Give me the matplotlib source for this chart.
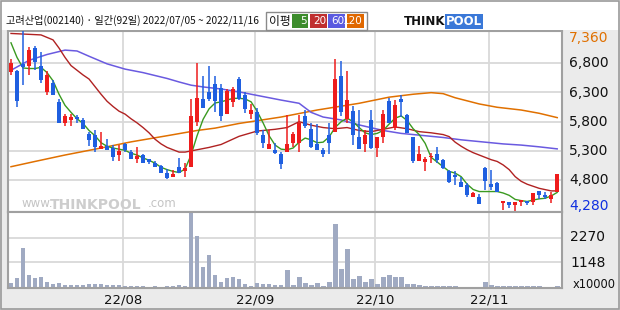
import matplotlib
matplotlib.use('Agg')
import matplotlib.pyplot as plt
from matplotlib.patches import Rectangle

plt.rcParams['font.family'] = ['Noto Sans CJK KR', 'DejaVu Sans']

# daily OHLC, 2022/07/05 ~ 2022/11/16 (92 days)
opens = [6650, 6670, 6790, 6760, 7060, 6750, 6310, 6470, 6130, 5780,
         5830, 5880, 5830, 5590, 5570, 5340, 5390, 5350, 5230, 5420,
         5280, 5170, 5230, 5160, 5090, 5040, 4920, 4860, 5030, 4950,
         5020, 5800, 6190, 6300, 6450, 6370, 5930, 6130, 6530, 6260,
         5930, 5970, 5580, 5330, 5320, 5240, 5280, 5440, 5430, 5900,
         5680, 5420, 5320, 5570, 5630, 6580, 5840, 5980, 5540, 5410,
         5830, 5350, 5530, 6160, 5700, 6190, 5920, 5530, 5130, 5110,
         5190, 5250, 5150, 4960, 4880, 4760, 4710, 4520, 4520, 5010,
         4740, 4750, 4410, 4420, 4370, 4420, 4440, 4420, 4620, 4550,
         4480, 4600]
highs = [6870, 6690, 7360, 7070, 7100, 7000, 6660, 6510, 6190, 5930,
         5930, 5920, 5860, 5630, 5660, 5630, 5500, 5400, 5400, 5430,
         5310, 5360, 5250, 5170, 5120, 5060, 4990, 4980, 5180, 5090,
         6180, 6800, 6580, 6750, 6580, 6450, 6360, 6400, 6570, 6310,
         6110, 6030, 5660, 5660, 5430, 5290, 5920, 5630, 5920, 6000,
         5770, 5760, 5350, 5770, 6870, 6840, 6660, 6070, 6000, 5660,
         6000, 5540, 6000, 6200, 6170, 6260, 5940, 5530, 5380, 5200,
         5270, 5360, 5160, 4980, 4950, 4860, 4750, 4600, 4560, 5030,
         4970, 4760, 4440, 4430, 4430, 4460, 4440, 4580, 4620, 4590,
         4590, 4910]
lows = [6600, 6060, 6430, 6600, 6690, 6470, 6250, 6250, 5770, 5720,
        5720, 5770, 5680, 5390, 5290, 5330, 5310, 5130, 5130, 5290,
        5160, 5100, 5090, 5080, 5020, 4930, 4820, 4850, 4930, 4860,
        5020, 5730, 6040, 6160, 5970, 5820, 5930, 6060, 6170, 5950,
        5840, 5580, 5350, 5330, 5240, 4990, 5280, 5360, 5290, 5700,
        5350, 5310, 5190, 5240, 5630, 5890, 5770, 5400, 5340, 5290,
        5340, 5200, 5430, 5770, 5660, 5880, 5600, 5090, 5130, 4950,
        5100, 5100, 4990, 4750, 4710, 4690, 4520, 4520, 4400, 4630,
        4630, 4590, 4290, 4330, 4280, 4360, 4380, 4380, 4480, 4480,
        4410, 4590]
closes = [6810, 6160, 6730, 7030, 6830, 6510, 6600, 6250, 5780, 5900,
          5880, 5840, 5680, 5480, 5360, 5390, 5310, 5200, 5300, 5310,
          5170, 5220, 5100, 5110, 5030, 4930, 4840, 4910, 4930, 5010,
          5900, 6200, 6040, 6190, 6160, 5900, 6330, 6360, 6190, 6020,
          6000, 5610, 5430, 5420, 5270, 5070, 5420, 5590, 5770, 5730,
          5360, 5310, 5240, 5440, 6530, 5970, 6170, 5580, 5340, 5580,
          5350, 5530, 5930, 5780, 6090, 6130, 5610, 5130, 5250, 5160,
          5220, 5150, 5000, 4760, 4860, 4690, 4550, 4580, 4400, 4780,
          4690, 4590, 4440, 4370, 4430, 4460, 4410, 4580, 4540, 4510,
          4550, 4910]
# volume (x10000)
volume = [245, 430, 1810, 567, 430, 475, 291, 199, 245, 153,
          153, 153, 123, 169, 169, 199, 123, 123, 153, 107,
          107, 107, 107, 61, 92, 61, 107, 107, 153, 107,
          3373, 2361, 935, 1487, 567, 291, 430, 475, 383, 199,
          107, 245, 169, 199, 123, 123, 797, 153, 475, 245,
          153, 245, 107, 291, 2867, 843, 1763, 383, 521, 291,
          383, 199, 475, 567, 475, 475, 199, 199, 153, 107,
          107, 107, 107, 107, 107, 61, 61, 61, 61, 291,
          153, 92, 107, 92, 92, 92, 92, 107, 107, 61,
          61, 107]

# moving averages
ma5 = [7150, 6900, 6720, 6710, 6710, 6730, 6640, 6500, 6270, 6080,
       5960, 5850, 5770, 5650, 5560, 5440, 5380, 5350, 5330, 5310,
       5260, 5230, 5180, 5140, 5090, 5020, 4980, 4950, 4930, 4990,
       5230, 5560, 5840, 6020, 6120, 6140, 6170, 6200, 6200, 6190,
       6140, 5980, 5780, 5560, 5400, 5330, 5320, 5350, 5450, 5520,
       5490, 5440, 5450, 5540, 5700, 5800, 5860, 5800, 5700, 5610,
       5580, 5600, 5650, 5760, 5860, 5900, 5820, 5680, 5580, 5430,
       5190, 5110, 5030, 4950, 4920, 4860, 4730, 4640, 4605, 4605,
       4605, 4605, 4580, 4540, 4470, 4450, 4435, 4460, 4480, 4490,
       4530, 4590]
ma20_x = [0, 5, 7, 8, 9, 10, 11, 12, 13, 14, 15, 16, 17, 18, 19, 20, 21, 22,
          23, 24, 25, 26, 27, 28, 29, 30, 31, 33, 35, 38, 41, 44, 46, 48, 50,
          52, 54, 56, 58, 60, 62, 64, 66, 68, 70, 72, 73, 74, 75, 76, 77, 78,
          80, 81, 82, 83, 84, 85, 86, 88, 90, 91]
ma20_y = [7310, 7285, 7200, 7060, 6900, 6760, 6680, 6600, 6530, 6400, 6270,
          6150, 6060, 5980, 5930, 5850, 5780, 5700, 5610, 5500, 5420, 5360,
          5320, 5280, 5280, 5300, 5320, 5360, 5410, 5550, 5640, 5670, 5700,
          5800, 5740, 5700, 5680, 5700, 5650, 5630, 5670, 5710, 5680, 5630,
          5610, 5580, 5545, 5450, 5380, 5320, 5270, 5230, 5150, 5120, 5060,
          4980, 4860, 4780, 4730, 4660, 4616, 4616]
ma60_x = [0, 3, 6, 9, 11, 13, 16, 19, 22, 26, 28, 30, 32, 35, 38, 42, 45, 48,
          50, 52, 55, 58, 62, 65, 68, 72, 75, 78, 82, 85, 88, 91]
ma60_y = [6680, 6850, 6950, 7025, 7010, 6920, 6790, 6700, 6640, 6540, 6480,
          6425, 6395, 6360, 6310, 6230, 6170, 6115, 5960, 5880, 5830, 5745,
          5650, 5600, 5570, 5530, 5490, 5460, 5420, 5400, 5370, 5335]
ma120_x = [0, 4, 9, 15, 20, 26, 31, 34, 38, 45, 51, 58, 63, 67, 70, 72, 74,
           78, 81, 85, 88, 91]
ma120_y = [5030, 5120, 5230, 5350, 5455, 5560, 5650, 5690, 5770, 5880, 6000,
           6115, 6220, 6270, 6297, 6280, 6210, 6104, 6047, 6000, 5944, 5870]

month_first = [19, 41, 61, 80]
month_labels = ['22/08', '22/09', '22/10', '22/11']
price_ticks = [6800, 6300, 5800, 5300, 4800]
vol_ticks = [1148, 2270]

W, H = 620, 310
UP, DOWN = '#ee1c1c', '#1f5fe0'
FRAME = '#a0a0a0'
GRID = '#d9d9d9'

fig = plt.figure(figsize=(6.2, 3.1), dpi=100, facecolor='#ebebeb')

def fx(px): return px / W
def fy(py): return 1 - py / H

# white header strip
fig.patches.append(Rectangle((0, fy(30)), 1, 1 - fy(30), transform=fig.transFigure,
                             facecolor='white', edgecolor='none', zorder=0))
fig.patches.append(Rectangle((0.001, 0.002), 0.997, 0.995, transform=fig.transFigure,
                             facecolor='none', edgecolor='#9a9a9a', lw=1.2, zorder=5))

ax = fig.add_axes([fx(8), fy(212), fx(562 - 8), fy(31) - fy(212)])
axv = fig.add_axes([fx(8), fy(288), fx(562 - 8), fy(212) - fy(288)])

xmin, xmax = -0.5, 91.8
for a in (ax, axv):
    a.set_facecolor('white')
    a.set_xlim(xmin, xmax)
    a.set_xticks([]); a.set_yticks([])
    for s in a.spines.values():
        s.set_color(FRAME); s.set_linewidth(1.5)
    for m in month_first:
        a.axvline(m - 0.4, color=GRID, lw=1.3, zorder=0)

ax.set_ylim(4255, 7352)
for p in price_ticks:
    ax.axhline(p, color=GRID, lw=1.3, zorder=0)
axv.set_ylim(0, 3420)
for v in vol_ticks:
    axv.axhline(v, color=GRID, lw=1.3, zorder=0)

# watermark
ax.text(0.025, 0.01, 'www.', transform=ax.transAxes, color='#c4c4c4', fontsize=8.5,
        family='DejaVu Sans', va='bottom', zorder=1)
ax.text(0.076, 0.0, 'THINKPOOL', transform=ax.transAxes, color='#cdcdcd', fontsize=10,
        weight='bold', family='DejaVu Sans', va='bottom', zorder=1)
ax.text(0.252, 0.01, '.com', transform=ax.transAxes, color='#c4c4c4', fontsize=8.5,
        family='DejaVu Sans', va='bottom', zorder=1)

# moving averages
idx = list(range(len(closes)))
ax.plot(ma120_x, ma120_y, color='#e07000', lw=1.1, zorder=2)
ax.plot(ma60_x, ma60_y, color='#6a5ae0', lw=1.1, zorder=2)
ax.plot(ma20_x, ma20_y, color='#b02222', lw=1.0, zorder=2)
ax.plot(idx, ma5, color='#3a9a20', lw=1.0, zorder=2)

# candles
for i in idx:
    o, h, l, c = opens[i], highs[i], lows[i], closes[i]
    col = UP if c >= o else DOWN
    ax.vlines(i, l, h, color=col, lw=1.1, zorder=3)
    ax.bar(i, max(abs(c - o), 18), bottom=min(o, c), width=0.68, color=col,
           zorder=4, linewidth=0)

axv.bar(idx, volume, width=0.8, color='#a0aac2', linewidth=0, zorder=2)

# right-hand labels
lab = dict(fontsize=10, family='DejaVu Sans', va='center', ha='left')
fig.text(fx(569), fy(38), '7,360', color='#e07000', **lab)
for p in price_ticks:
    ypx = 63.3 + (6800 - p) / 17.09
    fig.text(fx(569), fy(ypx), f'{p:,}', color='#111111', **lab)
fig.text(fx(569), fy(206), '4,280', color='#1030e0', **lab)
fig.text(fx(570), fy(237.3), '2270', color='#111111', **lab)
fig.text(fx(570), fy(262.7), '1148', color='#111111', **lab)
fig.text(fx(573), fy(285), 'x10000', color='#111111', fontsize=8.3,
         family='DejaVu Sans', va='center', ha='left')

# month labels
for m, t in zip(month_first, month_labels):
    xpx = 8 + (m - 0.4 - xmin) / (xmax - xmin) * 554
    fig.text(fx(xpx), fy(300), t, fontsize=9.5, ha='center', va='center',
             family='DejaVu Sans', color='#111111')

# header
fig.text(fx(6), fy(20), '고려산업(002140) · 일간(92일) 2022/07/05 ~ 2022/11/16',
         fontsize=7.3, va='center', ha='left', color='#111111')
fig.patches.append(Rectangle((fx(266), fy(30)), fx(101), fy(12) - fy(30),
                             transform=fig.transFigure, facecolor='white',
                             edgecolor='#8a8a8a', lw=1))
fig.text(fx(269), fy(21), '이평', fontsize=8.5, va='center', ha='left', color='#111111')
legend_items = [('5', '#3c8c2c', 292, 16), ('20', '#c03030', 310, 17),
                ('60', '#5a5ae0', 328, 17), ('120', '#e06800', 347, 17)]
for txt, col, x0, w in legend_items:
    fig.patches.append(Rectangle((fx(x0), fy(28)), fx(w), fy(14) - fy(28),
                                 transform=fig.transFigure, facecolor=col,
                                 edgecolor='none'))
    fig.text(fx(x0 + w - 1), fy(21), txt, fontsize=7.5, va='center', ha='right',
             color='white', family='DejaVu Sans')

# logo
fig.text(fx(404), fy(21.5), 'THINK', fontsize=8.5, weight='bold', va='center',
         ha='left', family='DejaVu Sans', color='#111111')
fig.text(fx(446), fy(21.5), 'POOL', fontsize=8.5, weight='bold', va='center',
         ha='left', family='DejaVu Sans', color='white',
         bbox=dict(boxstyle='square,pad=0.1', facecolor='#3a78d8', edgecolor='none'))

fig.savefig('out.png', dpi=100, facecolor=fig.get_facecolor())
